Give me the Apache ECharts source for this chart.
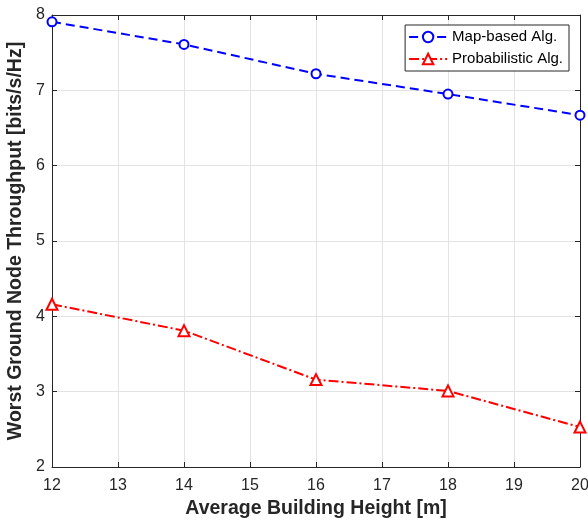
<!DOCTYPE html>
<html>
<head>
<meta charset="utf-8">
<script src="https://cdn.jsdelivr.net/npm/echarts@6/dist/echarts.min.js"></script>
<style>
html,body{margin:0;padding:0;background:#fff;}
#chart{width:588px;height:523px;}
</style>
</head>
<body>
<div id="chart"></div>
<script>
const heights = [12, 14, 16, 18, 20];
const mapBased = [7.91, 7.61, 7.22, 6.95, 6.67];
const probabilistic = [4.16, 3.81, 3.16, 3.01, 2.53];
const seriesNames = ['Map-based Alg.', 'Probabilistic Alg.'];
const xTitle = 'Average Building Height [m]';
const yTitle = 'Worst Ground Node Throughput [bits/s/Hz]';

const FONT = '"Liberation Sans", Arial, Helvetica, sans-serif';
const AX = '#262626';
const chart = echarts.init(document.getElementById('chart'), null, {renderer: 'canvas'});

const frameAxis = {
  axisLine: {show: true, lineStyle: {color: AX, width: 1}},
  axisTick: {show: true, inside: true, length: 5, lineStyle: {color: AX}},
  axisLabel: {show: false},
  splitLine: {show: false}
};

chart.setOption({
  animation: false,
  backgroundColor: '#fff',
  textStyle: {fontFamily: FONT},
  grid: {left: 52, right: 8, top: 15, bottom: 56, containLabel: false, outerBoundsMode: 'none'},
  legend: {
    right: 19, top: 25, orient: 'vertical',
    backgroundColor: '#fff',
    borderColor: AX, borderWidth: 1,
    padding: [3, 6, 3, 3], itemGap: 4,
    itemWidth: 38, itemHeight: 13,
    textStyle: {fontFamily: FONT, fontSize: 15, lineHeight: 18, color: '#000'},
    data: seriesNames
  },
  xAxis: [{
    type: 'value', min: 12, max: 20, interval: 1, position: 'bottom',
    name: xTitle, nameLocation: 'middle', nameGap: 32,
    nameTextStyle: {fontFamily: FONT, fontSize: 19.5, fontWeight: 'bold', color: AX},
    axisLine: {show: true, onZero: false, lineStyle: {color: AX, width: 1}},
    axisTick: {show: true, inside: true, length: 5, lineStyle: {color: AX}},
    axisLabel: {fontFamily: FONT, fontSize: 16, color: AX, margin: 11},
    splitLine: {show: true, lineStyle: {color: '#e3e3e3', width: 1}}
  }, Object.assign({type: 'value', min: 12, max: 20, interval: 1, position: 'top'}, frameAxis)],
  yAxis: [{
    type: 'value', min: 2, max: 8, interval: 1, position: 'left',
    name: yTitle, nameLocation: 'middle', nameGap: 18, nameRotate: 90,
    nameTextStyle: {fontFamily: FONT, fontSize: 19.5, fontWeight: 'bold', color: AX},
    axisLine: {show: true, onZero: false, lineStyle: {color: AX, width: 1}},
    axisTick: {show: true, inside: true, length: 5, lineStyle: {color: AX}},
    axisLabel: {fontFamily: FONT, fontSize: 16, color: AX, margin: 7},
    splitLine: {show: true, lineStyle: {color: '#e3e3e3', width: 1}}
  }, Object.assign({type: 'value', min: 2, max: 8, interval: 1, position: 'right'}, frameAxis)],
  series: [{
    name: seriesNames[0], type: 'line',
    data: heights.map((h, i) => [h, mapBased[i]]),
    symbol: 'circle', symbolSize: 9, showSymbol: true,
    itemStyle: {color: '#fff', borderColor: '#0000ff', borderWidth: 2},
    lineStyle: {color: '#0000ff', width: 2, type: [9, 5]},
    clip: false, z: 5
  }, {
    name: seriesNames[1], type: 'line',
    data: heights.map((h, i) => [h, probabilistic[i]]),
    symbol: 'triangle', symbolSize: 11, showSymbol: true,
    itemStyle: {color: '#fff', borderColor: '#ff0000', borderWidth: 2},
    lineStyle: {color: '#ff0000', width: 2, type: [10, 3, 2, 3]},
    clip: false, z: 5
  }]
});
</script>
</body>
</html>
